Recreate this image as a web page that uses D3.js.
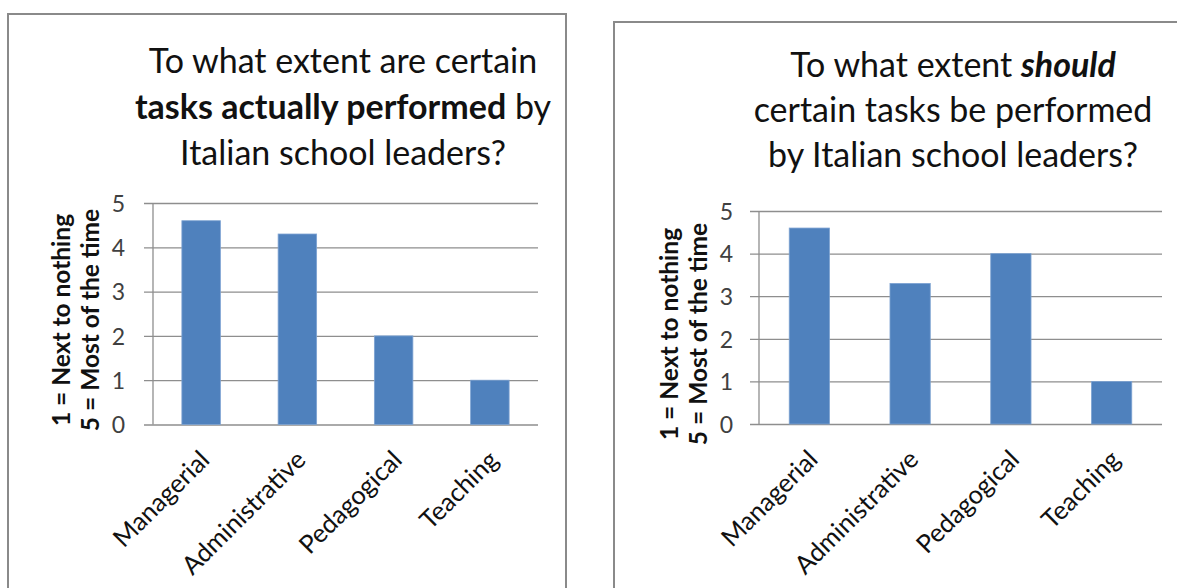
<!DOCTYPE html>
<html>
<head>
<meta charset="utf-8">
<script src="https://cdn.jsdelivr.net/npm/d3@7"></script>
<style>
  html, body { margin: 0; padding: 0; background: #fff; }
  svg { display: block; font-family: Lato, "Open Sans", sans-serif; }
</style>
</head>
<body>
<svg id="chart" width="1177" height="588"></svg>
<script>
// ------------------
// Data
// ------------------
const categories = ['Managerial', 'Administrative', 'Pedagogical', 'Teaching']
const actualValues = [4.6, 4.3, 2.0, 1.0]
const shouldValues = [4.6, 3.3, 4.0, 1.0]
const yTicks = [0, 1, 2, 3, 4, 5]
const yTitleLines = ['1 = Next to nothing', '5 = Most of the time']

// title lines, each a list of text runs
const actualTitle = [
  [{ t: 'To what extent are certain' }],
  [{ t: 'tasks actually performed', bold: true }, { t: ' by' }],
  [{ t: 'Italian school leaders?' }]
]
const shouldTitle = [
  [{ t: 'To what extent ' }, { t: 'should', bold: true, italic: true }],
  [{ t: 'certain tasks be performed' }],
  [{ t: 'by Italian school leaders?' }]
]

const barColor = '#4f81bd'
const gridColor = '#8e8e8e'
const frameColor = '#8a8a8a'

const svg = d3.select('#chart')

// ------------------
// One panel
// ------------------
function drawPanel(opts) {
  const { frame, plot, title, values, tickSize, titleSize, yTitle } = opts

  // panel frame (runs off the bottom / right of the picture)
  svg.append('rect')
    .attr('x', frame.x).attr('y', frame.y)
    .attr('width', frame.w).attr('height', frame.h)
    .attr('fill', 'none')
    .attr('stroke', frameColor)
    .attr('stroke-width', 2)

  // title
  const tt = svg.append('text')
    .attr('text-anchor', 'middle')
    .attr('font-size', titleSize)
    .attr('fill', '#111')
  title.forEach((line, i) => {
    line.forEach((run, j) => {
      const ts = tt.append('tspan')
        .attr('font-weight', run.bold ? 700 : 400)
        .attr('font-style', run.italic ? 'italic' : 'normal')
        .text(run.t)
      if (j === 0) ts.attr('x', opts.titleX).attr('y', opts.titleY + i * opts.titleLead)
    })
  })

  const x = d3.scaleBand()
    .domain(categories)
    .range([plot.x0, plot.x1])
    .paddingInner(0.6)
    .paddingOuter(0.3)

  const y = d3.scaleLinear()
    .domain([0, 5])
    .range([plot.y0, plot.y1])

  // gridlines + y axis
  const yAxis = svg.append('g')
    .attr('transform', `translate(${plot.x0},0)`)
    .call(d3.axisLeft(y)
      .tickValues(yTicks)
      .tickFormat(d3.format('d'))
      .tickSize(plot.x0 - plot.x1)
      .tickSizeOuter(0)
      .tickPadding(opts.tickPad))
  yAxis.select('.domain').remove()
  yAxis.selectAll('.tick line')
    .attr('stroke', gridColor)
    .attr('stroke-width', 1.3)
    .attr('x1', -9)
  yAxis.selectAll('.tick text')
    .attr('font-size', tickSize)
    .attr('font-family', 'Lato, sans-serif')
    .attr('fill', '#404040')
    .attr('dy', '0.36em')

  // vertical axis line
  svg.append('line')
    .attr('x1', plot.x0).attr('x2', plot.x0)
    .attr('y1', plot.y1).attr('y2', plot.y0)
    .attr('stroke', gridColor)
    .attr('stroke-width', 1.3)

  // bars
  svg.append('g')
    .selectAll('rect')
    .data(values)
    .join('rect')
    .attr('x', (d, i) => x(categories[i]))
    .attr('width', x.bandwidth())
    .attr('y', d => y(d))
    .attr('height', d => y(0) - y(d))
    .attr('fill', barColor)
    .attr('stroke', '#7ea3d2')
    .attr('stroke-width', 0.8)

  // x labels, rotated
  const step = (plot.x1 - plot.x0) / categories.length
  svg.append('g')
    .selectAll('text')
    .data(categories)
    .join('text')
    .attr('transform', (d, i) => `translate(${plot.x0 + step * (i + 0.5) + 10},${plot.y0 + 37}) rotate(-45)`)
    .attr('text-anchor', 'end')
    .attr('font-size', opts.xLabelSize)
    .attr('fill', '#111')
    .text(d => d)

  // rotated axis title
  const yt = svg.append('text')
    .attr('transform', `translate(${opts.yTitleX},${opts.yTitleY}) rotate(-90)`)
    .attr('text-anchor', 'middle')
    .attr('font-size', opts.yTitleSize)
    .attr('font-weight', 700)
    .attr('fill', '#111')
  yTitle.forEach((s, i) => {
    yt.append('tspan').attr('x', 0).attr('y', i * opts.yTitleLead).text(s)
  })
}

drawPanel({
  frame: { x: 8, y: 14, w: 558, h: 620 },
  plot: { x0: 153, x1: 538, y0: 424.5, y1: 203 },
  title: actualTitle,
  titleX: 343, titleY: 73, titleLead: 46, titleSize: 34,
  values: actualValues,
  tickSize: 23, tickPad: 28,
  xLabelSize: 25.5,
  yTitle: yTitleLines,
  yTitleX: 70, yTitleY: 320, yTitleLead: 29, yTitleSize: 24.5
})

drawPanel({
  frame: { x: 614, y: 22, w: 600, h: 620 },
  plot: { x0: 759, x1: 1162, y0: 424, y1: 211 },
  title: shouldTitle,
  titleX: 953, titleY: 77, titleLead: 45, titleSize: 34,
  values: shouldValues,
  tickSize: 23, tickPad: 26,
  xLabelSize: 25.5,
  yTitle: yTitleLines,
  yTitleX: 678, yTitleY: 334, yTitleLead: 29, yTitleSize: 24.5
})
</script>
</body>
</html>
